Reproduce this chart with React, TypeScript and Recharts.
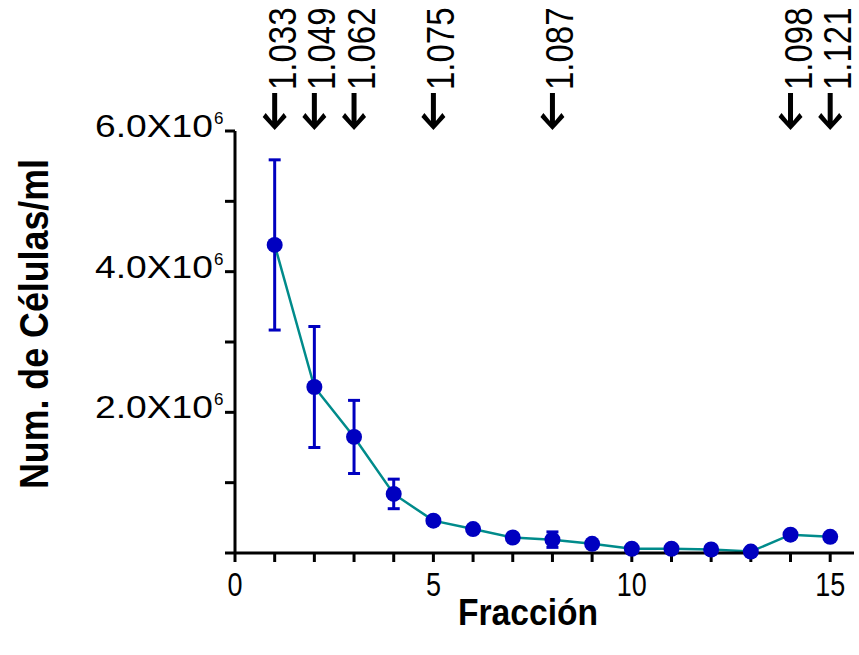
import React from "react";
import {
  ComposedChart,
  Line,
  ErrorBar,
  XAxis,
  YAxis,
  ReferenceDot,
} from "recharts";

// fraction number on the x axis
const fractions = [1, 2, 3, 4, 5, 6, 7, 8, 9, 10, 11, 12, 13, 14, 15];
// cells per ml
const cells = [
  4.38e6, 2.36e6, 1.65e6, 0.84e6, 0.46e6, 0.34e6, 0.22e6, 0.19e6, 0.13e6,
  0.06e6, 0.06e6, 0.05e6, 0.02e6, 0.26e6, 0.23e6,
];
// error (+/-), null where no bar shows
const errors = [
  1.21e6, 0.86e6, 0.52e6, 0.21e6, null, null, null, 0.11e6, null, null, null,
  null, null, null, null,
];

// density markers above the plot
const densityFractions = [1, 2, 3, 5, 8, 14, 15];
const densityLabels = ["1.033", "1.049", "1.062", "1.075", "1.087", "1.098", "1.121"];

const xTicks = [0, 1, 2, 3, 4, 5, 6, 7, 8, 9, 10, 11, 12, 13, 14, 15];
const xLabelTicks = [0, 5, 10, 15];
const yTicks = [0, 1e6, 2e6, 3e6, 4e6, 5e6, 6e6];
const yLabelTicks = [2e6, 4e6, 6e6];

const FONT = '"Liberation Sans", Arial, sans-serif';
const BLUE = "#0000C0";
const TEAL = "#008B8B";

const data = fractions.map((f, i) => ({
  fraction: f,
  cells: cells[i],
  err: errors[i],
}));

function XTick(props: any) {
  const { x, y, payload } = props;
  if (!xLabelTicks.includes(payload.value)) return null;
  const s = String(payload.value);
  return (
    <text
      x={x}
      y={y + 32}
      textAnchor="middle"
      fontFamily={FONT}
      fontSize={33}
      textLength={s.length * 15}
      lengthAdjust="spacingAndGlyphs"
      fill="#000"
    >
      {s}
    </text>
  );
}

function YTick(props: any) {
  const { x, y, payload } = props;
  if (!yLabelTicks.includes(payload.value)) return null;
  const mantissa = (payload.value / 1e6).toFixed(1);
  return (
    <g>
      <text
        x={x - 127}
        y={y + 6}
        fontFamily={FONT}
        fontSize={31}
        textLength={118}
        lengthAdjust="spacingAndGlyphs"
        fill="#000"
      >
        {mantissa}X10
      </text>
      <text x={x - 8} y={y - 7} fontFamily={FONT} fontSize={17} fill="#000">
        6
      </text>
    </g>
  );
}

function DensityMarker(props: any) {
  const { cx, cy, label } = props;
  const ax = cx;
  const b = cy - 1;
  return (
    <g>
      <path
        d={`M${ax - 2.5},${b - 37} L${ax + 2.5},${b - 37} L${ax + 2.5},${b - 9} L${ax + 9},${b - 17} L${ax + 12},${b - 13} L${ax},${b} L${ax - 12},${b - 13} L${ax - 9},${b - 17} L${ax - 2.5},${b - 9} Z`}
        fill="#000"
      />
      <text
        transform={`translate(${ax + 21},${b - 40}) rotate(-90) scale(1,1.2)`}
        fontFamily={FONT}
        fontSize={33}
        fill="#000"
      >
        {label}
      </text>
    </g>
  );
}

export default function App() {
  return (
    <div style={{ position: "absolute", left: 0, top: 0, background: "#fff" }}>
      <ComposedChart
        width={859}
        height={655}
        data={data}
        margin={{ top: 131, right: 5, bottom: 0, left: 0 }}
      >
        <XAxis
          dataKey="fraction"
          type="number"
          domain={[0, 15.6]}
          ticks={xTicks}
          interval={0}
          allowDataOverflow
          height={102}
          axisLine={{ stroke: "#000", strokeWidth: 3 }}
          tickLine={{ stroke: "#000", strokeWidth: 3 }}
          tickSize={9}
          tick={<XTick />}
        />
        <YAxis
          type="number"
          domain={[0, 6e6]}
          ticks={yTicks}
          interval={0}
          width={235}
          axisLine={{ stroke: "#000", strokeWidth: 3 }}
          tickLine={{ stroke: "#000", strokeWidth: 3 }}
          tickSize={10}
          tickMargin={3}
          tick={<YTick />}
        />
        <Line
          dataKey="cells"
          stroke={TEAL}
          strokeWidth={2.5}
          dot={{ r: 8, fill: BLUE, stroke: "none" }}
          activeDot={false}
          isAnimationActive={false}
        >
          <ErrorBar dataKey="err" direction="y" width={6} stroke={BLUE} strokeWidth={3} />
        </Line>
        {densityFractions.map((f, i) => (
          <ReferenceDot
            key={f}
            x={f}
            y={6e6}
            ifOverflow="visible"
            shape={(p: any) => <DensityMarker {...p} label={densityLabels[i]} />}
          />
        ))}
        <text
          transform="translate(48,324) rotate(-90)"
          textAnchor="middle"
          fontFamily={FONT}
          fontWeight="bold"
          fontSize={40}
          textLength={330}
          lengthAdjust="spacingAndGlyphs"
          fill="#000"
        >
          Num. de Células/ml
        </text>
        <text
          x={528}
          y={625}
          textAnchor="middle"
          fontFamily={FONT}
          fontWeight="bold"
          fontSize={37}
          textLength={140}
          lengthAdjust="spacingAndGlyphs"
          fill="#000"
        >
          Fracción
        </text>
      </ComposedChart>
    </div>
  );
}
